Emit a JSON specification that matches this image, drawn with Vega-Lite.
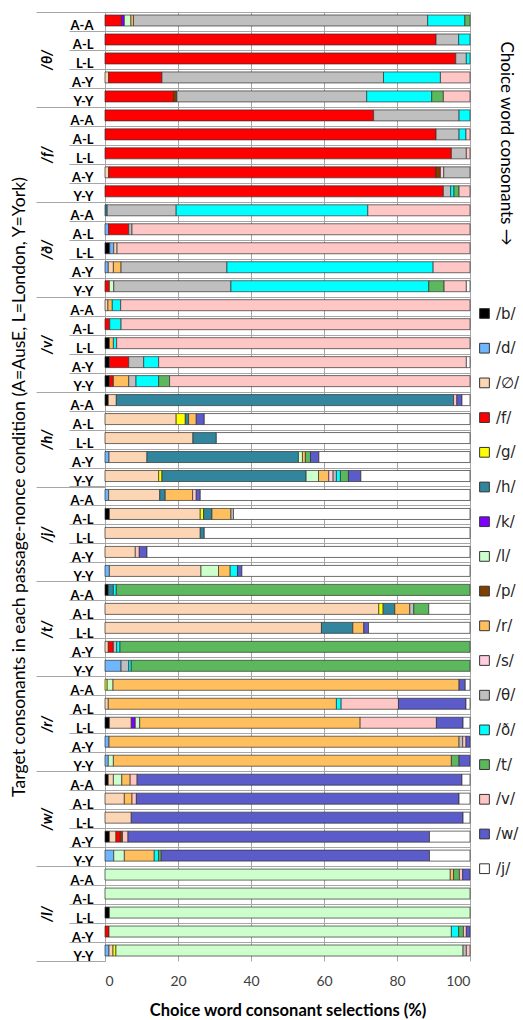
{
 "$schema": "https://vega.github.io/schema/vega-lite/v6.json",
 "autosize": "none",
 "padding": {"left": 105, "top": 12, "right": 418, "bottom": 1008},
 "background": "white",
 "config": {"view": {"stroke": null}, "font": "Lato"},
 "title": {"text": "Choice word consonants →", "orient": "right", "anchor": "start", "font": "Lato", "fontSize": 17, "fontWeight": "normal", "color": "#000", "offset": -23, "dx": 30},
 "width": 365, "height": 949,
 "datasets": {"keys": [
  {"k":"/b/","o":1},{"k":"/d/","o":2},{"k":"/∅/","o":3},{"k":"/f/","o":4},{"k":"/g/","o":5},{"k":"/h/","o":6},{"k":"/k/","o":7},{"k":"/l/","o":8},{"k":"/p/","o":9},{"k":"/r/","o":10},{"k":"/s/","o":11},{"k":"/θ/","o":12},{"k":"/ð/","o":13},{"k":"/t/","o":14},{"k":"/v/","o":15},{"k":"/w/","o":16},{"k":"/j/","o":17}
 ]},
 "data": {"values": [
  {"g":"/θ/","b":"/θ/ A-A","k":"/f/","v":4.5},{"g":"/θ/","b":"/θ/ A-A","k":"/k/","v":0.8},{"g":"/θ/","b":"/θ/ A-A","k":"/l/","v":1.8},{"g":"/θ/","b":"/θ/ A-A","k":"/r/","v":0.7},{"g":"/θ/","b":"/θ/ A-A","k":"/θ/","v":80.6},{"g":"/θ/","b":"/θ/ A-A","k":"/ð/","v":10.2},{"g":"/θ/","b":"/θ/ A-A","k":"/t/","v":1.4},
  {"g":"/θ/","b":"/θ/ A-L","k":"/f/","v":90.7},{"g":"/θ/","b":"/θ/ A-L","k":"/θ/","v":6.2},{"g":"/θ/","b":"/θ/ A-L","k":"/ð/","v":3.1},
  {"g":"/θ/","b":"/θ/ L-L","k":"/f/","v":96.1},{"g":"/θ/","b":"/θ/ L-L","k":"/θ/","v":2.9},{"g":"/θ/","b":"/θ/ L-L","k":"/ð/","v":1.0},
  {"g":"/θ/","b":"/θ/ A-Y","k":"/∅/","v":1.0},{"g":"/θ/","b":"/θ/ A-Y","k":"/f/","v":14.6},{"g":"/θ/","b":"/θ/ A-Y","k":"/θ/","v":60.7},{"g":"/θ/","b":"/θ/ A-Y","k":"/ð/","v":15.6},{"g":"/θ/","b":"/θ/ A-Y","k":"/v/","v":8.1},
  {"g":"/θ/","b":"/θ/ Y-Y","k":"/f/","v":18.8},{"g":"/θ/","b":"/θ/ Y-Y","k":"/p/","v":0.9},{"g":"/θ/","b":"/θ/ Y-Y","k":"/θ/","v":52.0},{"g":"/θ/","b":"/θ/ Y-Y","k":"/ð/","v":17.8},{"g":"/θ/","b":"/θ/ Y-Y","k":"/t/","v":3.2},{"g":"/θ/","b":"/θ/ Y-Y","k":"/v/","v":7.3},

  {"g":"/f/","b":"/f/ A-A","k":"/f/","v":73.6},{"g":"/f/","b":"/f/ A-A","k":"/θ/","v":23.4},{"g":"/f/","b":"/f/ A-A","k":"/ð/","v":3.0},
  {"g":"/f/","b":"/f/ A-L","k":"/f/","v":90.7},{"g":"/f/","b":"/f/ A-L","k":"/θ/","v":6.3},{"g":"/f/","b":"/f/ A-L","k":"/ð/","v":1.9},{"g":"/f/","b":"/f/ A-L","k":"/v/","v":1.1},
  {"g":"/f/","b":"/f/ L-L","k":"/f/","v":94.9},{"g":"/f/","b":"/f/ L-L","k":"/θ/","v":4.1},{"g":"/f/","b":"/f/ L-L","k":"/v/","v":1.0},
  {"g":"/f/","b":"/f/ A-Y","k":"/∅/","v":1.0},{"g":"/f/","b":"/f/ A-Y","k":"/f/","v":89.7},{"g":"/f/","b":"/f/ A-Y","k":"/p/","v":1.2},{"g":"/f/","b":"/f/ A-Y","k":"/s/","v":0.9},{"g":"/f/","b":"/f/ A-Y","k":"/θ/","v":7.2},
  {"g":"/f/","b":"/f/ Y-Y","k":"/f/","v":92.7},{"g":"/f/","b":"/f/ Y-Y","k":"/θ/","v":2.0},{"g":"/f/","b":"/f/ Y-Y","k":"/ð/","v":0.9},{"g":"/f/","b":"/f/ Y-Y","k":"/t/","v":1.4},{"g":"/f/","b":"/f/ Y-Y","k":"/v/","v":3.0},

  {"g":"/ð/","b":"/ð/ A-A","k":"/h/","v":0.6},{"g":"/ð/","b":"/ð/ A-A","k":"/θ/","v":18.9},{"g":"/ð/","b":"/ð/ A-A","k":"/ð/","v":52.5},{"g":"/ð/","b":"/ð/ A-A","k":"/v/","v":28.0},
  {"g":"/ð/","b":"/ð/ A-L","k":"/d/","v":1.0},{"g":"/ð/","b":"/ð/ A-L","k":"/f/","v":5.5},{"g":"/ð/","b":"/ð/ A-L","k":"/θ/","v":0.9},{"g":"/ð/","b":"/ð/ A-L","k":"/v/","v":92.6},
  {"g":"/ð/","b":"/ð/ L-L","k":"/b/","v":1.3},{"g":"/ð/","b":"/ð/ L-L","k":"/d/","v":1.1},{"g":"/ð/","b":"/ð/ L-L","k":"/∅/","v":0.9},{"g":"/ð/","b":"/ð/ L-L","k":"/v/","v":96.7},
  {"g":"/ð/","b":"/ð/ A-Y","k":"/d/","v":0.9},{"g":"/ð/","b":"/ð/ A-Y","k":"/∅/","v":1.4},{"g":"/ð/","b":"/ð/ A-Y","k":"/r/","v":2.1},{"g":"/ð/","b":"/ð/ A-Y","k":"/θ/","v":29.0},{"g":"/ð/","b":"/ð/ A-Y","k":"/ð/","v":56.5},{"g":"/ð/","b":"/ð/ A-Y","k":"/v/","v":10.1},
  {"g":"/ð/","b":"/ð/ Y-Y","k":"/f/","v":1.2},{"g":"/ð/","b":"/ð/ Y-Y","k":"/l/","v":1.2},{"g":"/ð/","b":"/ð/ Y-Y","k":"/θ/","v":32.1},{"g":"/ð/","b":"/ð/ Y-Y","k":"/ð/","v":54.2},{"g":"/ð/","b":"/ð/ Y-Y","k":"/t/","v":4.2},{"g":"/ð/","b":"/ð/ Y-Y","k":"/v/","v":6.1},{"g":"/ð/","b":"/ð/ Y-Y","k":"/j/","v":1.0},

  {"g":"/v/","b":"/v/ A-A","k":"/∅/","v":0.8},{"g":"/v/","b":"/v/ A-A","k":"/r/","v":1.2},{"g":"/v/","b":"/v/ A-A","k":"/ð/","v":2.3},{"g":"/v/","b":"/v/ A-A","k":"/v/","v":95.7},
  {"g":"/v/","b":"/v/ A-L","k":"/f/","v":1.3},{"g":"/v/","b":"/v/ A-L","k":"/ð/","v":3.1},{"g":"/v/","b":"/v/ A-L","k":"/v/","v":95.6},
  {"g":"/v/","b":"/v/ L-L","k":"/b/","v":1.2},{"g":"/v/","b":"/v/ L-L","k":"/r/","v":1.1},{"g":"/v/","b":"/v/ L-L","k":"/ð/","v":0.9},{"g":"/v/","b":"/v/ L-L","k":"/v/","v":96.8},
  {"g":"/v/","b":"/v/ A-Y","k":"/b/","v":1.2},{"g":"/v/","b":"/v/ A-Y","k":"/f/","v":5.3},{"g":"/v/","b":"/v/ A-Y","k":"/θ/","v":4.1},{"g":"/v/","b":"/v/ A-Y","k":"/ð/","v":4.1},{"g":"/v/","b":"/v/ A-Y","k":"/v/","v":84.3},{"g":"/v/","b":"/v/ A-Y","k":"/j/","v":1.0},
  {"g":"/v/","b":"/v/ Y-Y","k":"/b/","v":1.2},{"g":"/v/","b":"/v/ Y-Y","k":"/f/","v":1.1},{"g":"/v/","b":"/v/ Y-Y","k":"/r/","v":4.2},{"g":"/v/","b":"/v/ Y-Y","k":"/θ/","v":2.0},{"g":"/v/","b":"/v/ Y-Y","k":"/ð/","v":6.2},{"g":"/v/","b":"/v/ Y-Y","k":"/t/","v":3.0},{"g":"/v/","b":"/v/ Y-Y","k":"/v/","v":82.3},

  {"g":"/h/","b":"/h/ A-A","k":"/b/","v":0.9},{"g":"/h/","b":"/h/ A-A","k":"/∅/","v":2.2},{"g":"/h/","b":"/h/ A-A","k":"/h/","v":92.4},{"g":"/h/","b":"/h/ A-A","k":"/v/","v":0.9},{"g":"/h/","b":"/h/ A-A","k":"/w/","v":1.4},{"g":"/h/","b":"/h/ A-A","k":"/j/","v":2.2},
  {"g":"/h/","b":"/h/ A-L","k":"/∅/","v":19.5},{"g":"/h/","b":"/h/ A-L","k":"/g/","v":2.5},{"g":"/h/","b":"/h/ A-L","k":"/h/","v":0.9},{"g":"/h/","b":"/h/ A-L","k":"/r/","v":2.1},{"g":"/h/","b":"/h/ A-L","k":"/w/","v":2.2},{"g":"/h/","b":"/h/ A-L","k":"/j/","v":72.8},
  {"g":"/h/","b":"/h/ L-L","k":"/∅/","v":24.1},{"g":"/h/","b":"/h/ L-L","k":"/h/","v":6.4},{"g":"/h/","b":"/h/ L-L","k":"/j/","v":69.5},
  {"g":"/h/","b":"/h/ A-Y","k":"/d/","v":1.1},{"g":"/h/","b":"/h/ A-Y","k":"/∅/","v":10.4},{"g":"/h/","b":"/h/ A-Y","k":"/h/","v":41.5},{"g":"/h/","b":"/h/ A-Y","k":"/l/","v":1.1},{"g":"/h/","b":"/h/ A-Y","k":"/r/","v":0.8},{"g":"/h/","b":"/h/ A-Y","k":"/t/","v":1.4},{"g":"/h/","b":"/h/ A-Y","k":"/w/","v":2.3},{"g":"/h/","b":"/h/ A-Y","k":"/j/","v":41.4},
  {"g":"/h/","b":"/h/ Y-Y","k":"/∅/","v":14.7},{"g":"/h/","b":"/h/ Y-Y","k":"/g/","v":0.9},{"g":"/h/","b":"/h/ Y-Y","k":"/h/","v":39.5},{"g":"/h/","b":"/h/ Y-Y","k":"/l/","v":3.4},{"g":"/h/","b":"/h/ Y-Y","k":"/r/","v":2.8},{"g":"/h/","b":"/h/ Y-Y","k":"/s/","v":1.2},{"g":"/h/","b":"/h/ Y-Y","k":"/θ/","v":0.9},{"g":"/h/","b":"/h/ Y-Y","k":"/ð/","v":1.1},{"g":"/h/","b":"/h/ Y-Y","k":"/t/","v":2.2},{"g":"/h/","b":"/h/ Y-Y","k":"/w/","v":3.4},{"g":"/h/","b":"/h/ Y-Y","k":"/j/","v":29.9},

  {"g":"/j/","b":"/j/ A-A","k":"/d/","v":1.0},{"g":"/j/","b":"/j/ A-A","k":"/∅/","v":14.0},{"g":"/j/","b":"/j/ A-A","k":"/h/","v":1.5},{"g":"/j/","b":"/j/ A-A","k":"/r/","v":7.5},{"g":"/j/","b":"/j/ A-A","k":"/v/","v":1.0},{"g":"/j/","b":"/j/ A-A","k":"/w/","v":1.1},{"g":"/j/","b":"/j/ A-A","k":"/j/","v":73.9},
  {"g":"/j/","b":"/j/ A-L","k":"/b/","v":1.2},{"g":"/j/","b":"/j/ A-L","k":"/∅/","v":24.9},{"g":"/j/","b":"/j/ A-L","k":"/g/","v":0.9},{"g":"/j/","b":"/j/ A-L","k":"/h/","v":2.3},{"g":"/j/","b":"/j/ A-L","k":"/r/","v":5.2},{"g":"/j/","b":"/j/ A-L","k":"/θ/","v":0.7},{"g":"/j/","b":"/j/ A-L","k":"/j/","v":64.8},
  {"g":"/j/","b":"/j/ L-L","k":"/∅/","v":26.1},{"g":"/j/","b":"/j/ L-L","k":"/h/","v":1.1},{"g":"/j/","b":"/j/ L-L","k":"/j/","v":72.8},
  {"g":"/j/","b":"/j/ A-Y","k":"/∅/","v":8.3},{"g":"/j/","b":"/j/ A-Y","k":"/v/","v":1.1},{"g":"/j/","b":"/j/ A-Y","k":"/w/","v":2.1},{"g":"/j/","b":"/j/ A-Y","k":"/j/","v":88.5},
  {"g":"/j/","b":"/j/ Y-Y","k":"/d/","v":1.2},{"g":"/j/","b":"/j/ Y-Y","k":"/∅/","v":25.1},{"g":"/j/","b":"/j/ Y-Y","k":"/l/","v":4.8},{"g":"/j/","b":"/j/ Y-Y","k":"/r/","v":3.2},{"g":"/j/","b":"/j/ Y-Y","k":"/ð/","v":2.0},{"g":"/j/","b":"/j/ Y-Y","k":"/w/","v":1.2},{"g":"/j/","b":"/j/ Y-Y","k":"/j/","v":62.5},

  {"g":"/t/","b":"/t/ A-A","k":"/b/","v":0.9},{"g":"/t/","b":"/t/ A-A","k":"/h/","v":1.4},{"g":"/t/","b":"/t/ A-A","k":"/ð/","v":0.8},{"g":"/t/","b":"/t/ A-A","k":"/t/","v":96.9},
  {"g":"/t/","b":"/t/ A-L","k":"/∅/","v":75.0},{"g":"/t/","b":"/t/ A-L","k":"/g/","v":1.2},{"g":"/t/","b":"/t/ A-L","k":"/h/","v":3.2},{"g":"/t/","b":"/t/ A-L","k":"/r/","v":4.1},{"g":"/t/","b":"/t/ A-L","k":"/θ/","v":1.1},{"g":"/t/","b":"/t/ A-L","k":"/t/","v":4.1},{"g":"/t/","b":"/t/ A-L","k":"/j/","v":11.3},
  {"g":"/t/","b":"/t/ L-L","k":"/∅/","v":59.3},{"g":"/t/","b":"/t/ L-L","k":"/h/","v":8.6},{"g":"/t/","b":"/t/ L-L","k":"/r/","v":3.0},{"g":"/t/","b":"/t/ L-L","k":"/w/","v":1.3},{"g":"/t/","b":"/t/ L-L","k":"/j/","v":27.8},
  {"g":"/t/","b":"/t/ A-Y","k":"/∅/","v":0.9},{"g":"/t/","b":"/t/ A-Y","k":"/f/","v":1.4},{"g":"/t/","b":"/t/ A-Y","k":"/θ/","v":0.9},{"g":"/t/","b":"/t/ A-Y","k":"/ð/","v":0.9},{"g":"/t/","b":"/t/ A-Y","k":"/t/","v":95.9},
  {"g":"/t/","b":"/t/ Y-Y","k":"/d/","v":4.4},{"g":"/t/","b":"/t/ Y-Y","k":"/θ/","v":2.1},{"g":"/t/","b":"/t/ Y-Y","k":"/ð/","v":0.7},{"g":"/t/","b":"/t/ Y-Y","k":"/t/","v":92.8},

  {"g":"/r/","b":"/r/ A-A","k":"/g/","v":0.6},{"g":"/r/","b":"/r/ A-A","k":"/l/","v":1.6},{"g":"/r/","b":"/r/ A-A","k":"/r/","v":94.8},{"g":"/r/","b":"/r/ A-A","k":"/w/","v":1.7},{"g":"/r/","b":"/r/ A-A","k":"/j/","v":1.3},
  {"g":"/r/","b":"/r/ A-L","k":"/∅/","v":0.9},{"g":"/r/","b":"/r/ A-L","k":"/r/","v":62.5},{"g":"/r/","b":"/r/ A-L","k":"/ð/","v":1.3},{"g":"/r/","b":"/r/ A-L","k":"/v/","v":15.7},{"g":"/r/","b":"/r/ A-L","k":"/w/","v":18.5},{"g":"/r/","b":"/r/ A-L","k":"/j/","v":1.1},
  {"g":"/r/","b":"/r/ L-L","k":"/b/","v":1.2},{"g":"/r/","b":"/r/ L-L","k":"/∅/","v":6.0},{"g":"/r/","b":"/r/ L-L","k":"/k/","v":1.1},{"g":"/r/","b":"/r/ L-L","k":"/l/","v":1.2},{"g":"/r/","b":"/r/ L-L","k":"/r/","v":60.4},{"g":"/r/","b":"/r/ L-L","k":"/v/","v":20.9},{"g":"/r/","b":"/r/ L-L","k":"/w/","v":7.3},{"g":"/r/","b":"/r/ L-L","k":"/j/","v":1.9},
  {"g":"/r/","b":"/r/ A-Y","k":"/d/","v":1.1},{"g":"/r/","b":"/r/ A-Y","k":"/r/","v":95.9},{"g":"/r/","b":"/r/ A-Y","k":"/θ/","v":1.0},{"g":"/r/","b":"/r/ A-Y","k":"/v/","v":0.9},{"g":"/r/","b":"/r/ A-Y","k":"/w/","v":1.1},
  {"g":"/r/","b":"/r/ Y-Y","k":"/d/","v":0.9},{"g":"/r/","b":"/r/ Y-Y","k":"/l/","v":1.4},{"g":"/r/","b":"/r/ Y-Y","k":"/r/","v":92.6},{"g":"/r/","b":"/r/ Y-Y","k":"/t/","v":2.1},{"g":"/r/","b":"/r/ Y-Y","k":"/w/","v":3.0},

  {"g":"/w/","b":"/w/ A-A","k":"/b/","v":0.9},{"g":"/w/","b":"/w/ A-A","k":"/∅/","v":1.4},{"g":"/w/","b":"/w/ A-A","k":"/l/","v":2.3},{"g":"/w/","b":"/w/ A-A","k":"/r/","v":2.3},{"g":"/w/","b":"/w/ A-A","k":"/v/","v":1.9},{"g":"/w/","b":"/w/ A-A","k":"/w/","v":89.0},{"g":"/w/","b":"/w/ A-A","k":"/j/","v":2.2},
  {"g":"/w/","b":"/w/ A-L","k":"/∅/","v":5.3},{"g":"/w/","b":"/w/ A-L","k":"/r/","v":2.1},{"g":"/w/","b":"/w/ A-L","k":"/v/","v":1.2},{"g":"/w/","b":"/w/ A-L","k":"/w/","v":88.4},{"g":"/w/","b":"/w/ A-L","k":"/j/","v":3.0},
  {"g":"/w/","b":"/w/ L-L","k":"/∅/","v":7.2},{"g":"/w/","b":"/w/ L-L","k":"/w/","v":90.9},{"g":"/w/","b":"/w/ L-L","k":"/j/","v":1.9},
  {"g":"/w/","b":"/w/ A-Y","k":"/b/","v":1.2},{"g":"/w/","b":"/w/ A-Y","k":"/∅/","v":1.8},{"g":"/w/","b":"/w/ A-Y","k":"/f/","v":1.2},{"g":"/w/","b":"/w/ A-Y","k":"/p/","v":0.6},{"g":"/w/","b":"/w/ A-Y","k":"/v/","v":1.5},{"g":"/w/","b":"/w/ A-Y","k":"/w/","v":82.6},{"g":"/w/","b":"/w/ A-Y","k":"/j/","v":11.1},
  {"g":"/w/","b":"/w/ Y-Y","k":"/d/","v":2.4},{"g":"/w/","b":"/w/ Y-Y","k":"/l/","v":2.9},{"g":"/w/","b":"/w/ Y-Y","k":"/r/","v":8.2},{"g":"/w/","b":"/w/ Y-Y","k":"/ð/","v":1.2},{"g":"/w/","b":"/w/ Y-Y","k":"/t/","v":0.7},{"g":"/w/","b":"/w/ Y-Y","k":"/w/","v":73.5},{"g":"/w/","b":"/w/ Y-Y","k":"/j/","v":11.1},

  {"g":"/l/","b":"/l/ A-A","k":"/l/","v":94.6},{"g":"/l/","b":"/l/ A-A","k":"/r/","v":0.9},{"g":"/l/","b":"/l/ A-A","k":"/t/","v":1.6},{"g":"/l/","b":"/l/ A-A","k":"/v/","v":0.9},{"g":"/l/","b":"/l/ A-A","k":"/w/","v":2.0},
  {"g":"/l/","b":"/l/ A-L","k":"/l/","v":100},
  {"g":"/l/","b":"/l/ L-L","k":"/b/","v":1.2},{"g":"/l/","b":"/l/ L-L","k":"/l/","v":98.8},
  {"g":"/l/","b":"/l/ A-Y","k":"/f/","v":1.1},{"g":"/l/","b":"/l/ A-Y","k":"/l/","v":93.8},{"g":"/l/","b":"/l/ A-Y","k":"/ð/","v":2.0},{"g":"/l/","b":"/l/ A-Y","k":"/t/","v":1.3},{"g":"/l/","b":"/l/ A-Y","k":"/v/","v":0.8},{"g":"/l/","b":"/l/ A-Y","k":"/w/","v":1.0},
  {"g":"/l/","b":"/l/ Y-Y","k":"/d/","v":1.1},{"g":"/l/","b":"/l/ Y-Y","k":"/∅/","v":1.1},{"g":"/l/","b":"/l/ Y-Y","k":"/g/","v":0.8},{"g":"/l/","b":"/l/ Y-Y","k":"/l/","v":95.1},{"g":"/l/","b":"/l/ Y-Y","k":"/θ/","v":0.9},{"g":"/l/","b":"/l/ Y-Y","k":"/v/","v":1.0}
 ]},
 "transform": [{"lookup": "k", "from": {"data": {"name": "keys"}, "key": "k", "fields": ["o"]}}],
 "layer": [
  {
   "mark": {"type": "bar", "stroke": "#303030", "strokeWidth": 0.7},
   "encoding": {
    "y": {"field": "b", "type": "nominal", "title": null,
      "sort": ["/θ/ A-A","/θ/ A-L","/θ/ L-L","/θ/ A-Y","/θ/ Y-Y","/f/ A-A","/f/ A-L","/f/ L-L","/f/ A-Y","/f/ Y-Y","/ð/ A-A","/ð/ A-L","/ð/ L-L","/ð/ A-Y","/ð/ Y-Y","/v/ A-A","/v/ A-L","/v/ L-L","/v/ A-Y","/v/ Y-Y","/h/ A-A","/h/ A-L","/h/ L-L","/h/ A-Y","/h/ Y-Y","/j/ A-A","/j/ A-L","/j/ L-L","/j/ A-Y","/j/ Y-Y","/t/ A-A","/t/ A-L","/t/ L-L","/t/ A-Y","/t/ Y-Y","/r/ A-A","/r/ A-L","/r/ L-L","/r/ A-Y","/r/ Y-Y","/w/ A-A","/w/ A-L","/w/ L-L","/w/ A-Y","/w/ Y-Y","/l/ A-A","/l/ A-L","/l/ L-L","/l/ A-Y","/l/ Y-Y"],
      "scale": {"paddingInner": 0.42, "paddingOuter": 0.21, "align": 0.375},
      "axis": {"orient": "left", "bandPosition": 0, "tickOffset": -3, "labelOffset": 8.5, "tickSize": 36, "labelPadding": -24,
        "labelExpr": "slice(datum.value, -3)",
        "tickColor": "#a6a6a6", "domainColor": "#a6a6a6", "grid": true, "gridColor": "#a6a6a6",
        "labelFont": "Lato", "labelFontWeight": "bold", "labelFontSize": 13, "labelColor": "#000", "labelAlign": "right"}},
    "x": {"field": "v", "type": "quantitative", "stack": "zero",
      "scale": {"domain": [0, 100], "nice": false},
      "axis": {"values": [0, 20, 40, 60, 80, 100], "grid": true, "gridColor": "#a6a6a6", "domain": false, "ticks": false,
        "labelFont": "Lato", "labelFontSize": 14, "labelColor": "#404040", "labelPadding": 13,
        "title": "Choice word consonant selections (%)", "titleFont": "Lato", "titleFontSize": 16.5, "titleFontWeight": "bold", "titleColor": "#000", "titlePadding": 14}},
    "order": {"field": "o", "type": "quantitative", "sort": "ascending"},
    "color": {"field": "k", "type": "nominal",
      "sort": ["/b/", "/d/", "/∅/", "/f/", "/g/", "/h/", "/k/", "/l/", "/p/", "/r/", "/s/", "/θ/", "/ð/", "/t/", "/v/", "/w/", "/j/"],
      "scale": {"domain": ["/b/", "/d/", "/∅/", "/f/", "/g/", "/h/", "/k/", "/l/", "/p/", "/r/", "/s/", "/θ/", "/ð/", "/t/", "/v/", "/w/", "/j/"],
        "range": ["#000000", "#6fb6ff", "#fcd5b4", "#ff0000", "#ffff00", "#31859c", "#7f00ff", "#ccffcc", "#7f3f00", "#ffbf5f", "#ffcce0", "#bfbfbf", "#00ffff", "#5cb85c", "#ffc6c6", "#5b5bc9", "#ffffff"]},
      "legend": {"orient": "none", "legendX": 372, "legendY": 294, "title": null, "symbolType": "square", "symbolSize": 95,
        "symbolStrokeColor": "#333", "symbolStrokeWidth": 1, "labelFont": "DejaVu Sans", "labelFontSize": 15, "labelColor": "#262626",
        "rowPadding": 18.7, "padding": 0, "labelOffset": 4}}
   }
  },
  {
   "mark": {"type": "rule", "opacity": 0},
   "encoding": {
    "y": {"field": "g", "type": "nominal",
      "sort": ["/θ/", "/f/", "/ð/", "/v/", "/h/", "/j/", "/t/", "/r/", "/w/", "/l/"],
      "scale": {"paddingInner": 0, "paddingOuter": 0},
      "title": "Target consonants in each passage-nonce condition (A=AusE, L=London, Y=York)",
      "axis": {"orient": "left", "tickBand": "extent", "tickSize": 69, "tickColor": "#a6a6a6", "domain": false, "grid": false,
        "labelAngle": -90, "labelAlign": "center", "labelBaseline": "middle", "labelPadding": -11,
        "labelFont": "Lato", "labelFontSize": 14.5, "labelFontWeight": "bold", "labelFontStyle": "italic", "labelColor": "#000",
        "titleFont": "Lato", "titleFontSize": 17.6, "titleFontWeight": "normal", "titleColor": "#000", "titlePadding": 7}}
   }
  }
 ],
 "resolve": {"scale": {"y": "independent"}, "axis": {"y": "independent"}}
}
